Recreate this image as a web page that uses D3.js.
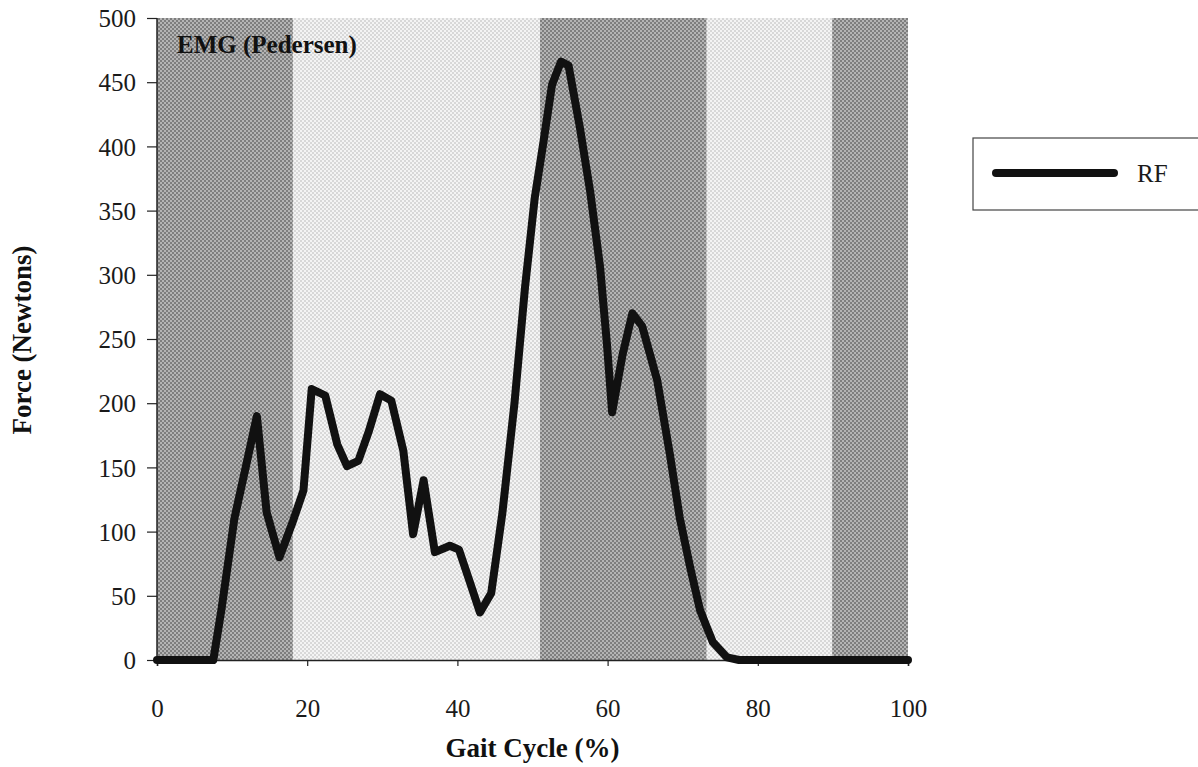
<!DOCTYPE html>
<html><head><meta charset="utf-8">
<script src="https://cdn.jsdelivr.net/npm/d3@7"></script>
<style>body{margin:0;background:#fff}svg{display:block}</style>
</head><body>
<svg id="c" width="1198" height="767"></svg>
<script>
// Data
const gait = [0, 3, 7.5, 8.6, 10.3, 12, 13.3, 14.6, 16.3, 18.1, 19.5, 20.6, 22.4, 24, 25.3, 26.8, 28.2, 29.7, 31.2, 32.8, 34.1, 35.5, 37.0, 39.0, 40.2, 41.7, 43.0, 44.5, 46.0, 47.6, 49.0, 50.3, 51.5, 52.6, 53.8, 54.8, 56.3, 57.7, 59.0, 59.9, 60.6, 62.0, 63.3, 64.6, 66.6, 68.3, 69.6, 71.0, 72.3, 74.0, 75.9, 77.5, 85, 100];
const force = [0, 0, 0, 40, 110, 155, 190, 115, 80, 108, 132, 211, 206, 168, 151, 155, 178, 207, 202, 163, 98, 140, 84, 89, 86, 60, 37, 52, 115, 200, 290, 360, 405, 448, 466, 463, 415, 364, 306, 247, 193, 238, 270, 260, 218, 160, 111, 72, 39, 14, 2, 0, 0, 0];
const bandStart = [0, 18.1, 51.0, 73.2, 89.9];
const bandEnd = [18.1, 51.0, 73.2, 89.9, 100];
const bandTone = ["dark", "light", "dark", "light", "dark"];
const xTicks = [0, 20, 40, 60, 80, 100];
const yTicks = [0, 50, 100, 150, 200, 250, 300, 350, 400, 450, 500];
const seriesName = "RF";
const annotation = "EMG (Pedersen)";

const svg = d3.select("#c");
const L = 157, R = 908, T = 18, B = 660;
const x = d3.scaleLinear().domain([0, 100]).range([L, R]);
const y = d3.scaleLinear().domain([0, 500]).range([B, T]);

// halftone-like patterns
const defs = svg.append("defs");
function pat(id, a, b) {
  const p = defs.append("pattern").attr("id", id).attr("width", 4).attr("height", 4)
    .attr("patternUnits", "userSpaceOnUse");
  p.append("rect").attr("width", 4).attr("height", 4).attr("fill", a);
  p.append("rect").attr("x", 0).attr("y", 0).attr("width", 2).attr("height", 2).attr("fill", b);
  p.append("rect").attr("x", 2).attr("y", 2).attr("width", 2).attr("height", 2).attr("fill", b);
}
pat("dark", "#b4b4b4", "#7e7e7e");
pat("light", "#f4f4f4", "#d8d8d8");

svg.append("g").selectAll("rect").data(bandStart).join("rect")
  .attr("x", (d) => x(d)).attr("y", T)
  .attr("width", (d, i) => x(bandEnd[i]) - x(d))
  .attr("height", B - T)
  .attr("fill", (d, i) => "url(#" + bandTone[i] + ")");

const serif = "'Liberation Serif','Times New Roman',serif";

// axes
const yAxis = svg.append("g").attr("transform", `translate(${L},0)`)
  .call(d3.axisLeft(y).tickValues(yTicks).tickSize(10).tickPadding(11));
const xAxis = svg.append("g").attr("transform", `translate(0,${B})`)
  .call(d3.axisBottom(x).tickValues(xTicks).tickSize(6).tickPadding(33));
[yAxis, xAxis].forEach(g => {
  g.select(".domain").attr("stroke", "#222").attr("stroke-width", 1.5);
  g.selectAll(".tick line").attr("stroke", "#222").attr("stroke-width", 1.2);
  g.selectAll("text").attr("font-family", serif).attr("font-size", 25).attr("fill", "#1a1a1a");
});
yAxis.select(".domain").attr("d", `M0,${B}V${T}`);
yAxis.selectAll(".tick text").attr("dy", "0.35em");

// line
svg.append("path").datum(gait.map((g, i) => [g, force[i]]))
  .attr("fill", "none").attr("stroke", "#111").attr("stroke-width", 8)
  .attr("stroke-linejoin", "round").attr("stroke-linecap", "round")
  .attr("d", d3.line().x(d => x(d[0])).y(d => y(d[1])));

// annotation
svg.append("text").attr("x", 177).attr("y", 53).text(annotation)
  .attr("font-family", serif).attr("font-weight", "bold").attr("font-size", 25).attr("fill", "#111");

// titles
svg.append("text").attr("x", (L + R) / 2).attr("y", 757).attr("text-anchor", "middle")
  .text("Gait Cycle (%)").attr("font-family", serif).attr("font-weight", "bold").attr("font-size", 27).attr("fill", "#111");
svg.append("text").attr("transform", "translate(31,340) rotate(-90)").attr("text-anchor", "middle")
  .text("Force (Newtons)").attr("font-family", serif).attr("font-weight", "bold").attr("font-size", 27).attr("fill", "#111");

// legend
const lg = svg.append("g");
lg.append("rect").attr("x", 973).attr("y", 138).attr("width", 240).attr("height", 72)
  .attr("fill", "#fff").attr("stroke", "#444").attr("stroke-width", 1.2);
lg.append("line").attr("x1", 996).attr("x2", 1114).attr("y1", 173).attr("y2", 173)
  .attr("stroke", "#111").attr("stroke-width", 8).attr("stroke-linecap", "round");
lg.append("text").attr("x", 1137).attr("y", 182).text(seriesName)
  .attr("font-family", serif).attr("font-size", 25).attr("fill", "#1a1a1a");
</script>
</body></html>
